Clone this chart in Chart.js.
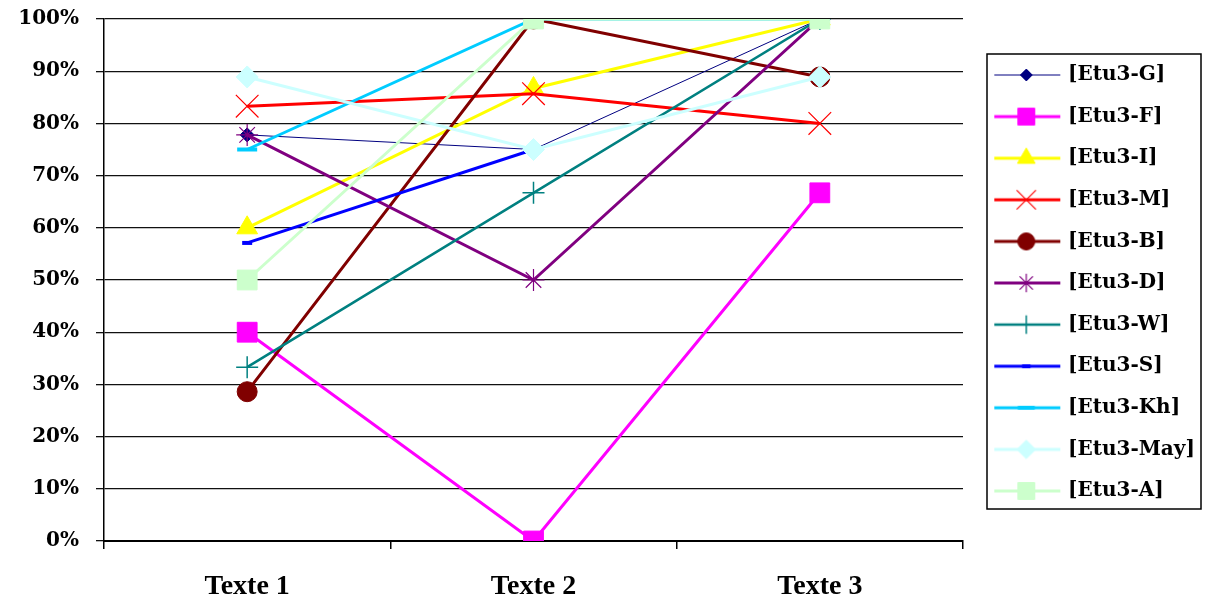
<!DOCTYPE html>
<html>
<head>
<meta charset="utf-8">
<title>Etu3</title>
<script src="https://cdn.jsdelivr.net/npm/chart.js"></script>
<style>
    body { margin: 0; background: #fff; }
    #wrap { width: 1206px; height: 601px; }
</style>
</head>
<body>
<div id="wrap"><canvas id="myChart" width="1206" height="601"></canvas></div>
<script>
// Categories et valeurs (en %)
const textes = ['Texte 1', 'Texte 2', 'Texte 3'];
const etuG = [77.8, 75, 100];
const etuF = [40, 0, 66.7];
const etuI = [60, 86.7, 100];
const etuM = [83.3, 85.7, 80];
const etuB = [28.6, 100, 88.9];
const etuD = [77.8, 50, 100];
const etuW = [33.3, 66.7, 100];
const etuS = [57.1, 75, null];
const etuKh = [75, 100, 100];
const etuMay = [88.9, 75, 88.9];
const etuA = [50, 100, 100];
const graduations = [0, 10, 20, 30, 40, 50, 60, 70, 80, 90, 100];

function serie(label, data, color, style, radius, lineW, markW) {
    return {
        label: label,
        data: data,
        borderColor: color,
        backgroundColor: color,
        borderWidth: lineW,
        pointStyle: style,
        pointRadius: radius,
        pointHoverRadius: radius,
        pointBackgroundColor: color,
        pointBorderColor: color,
        pointBorderWidth: markW,
        tension: 0
    };
}

const datasets = [
    serie('[Etu3-G]', etuG, '#000080', 'rectRot', 7, 1, 1),
    serie('[Etu3-F]', etuF, '#FF00FF', 'rect', 14, 3, 1),
    serie('[Etu3-I]', etuI, '#FFFF00', 'triangle', 12, 3, 1),
    serie('[Etu3-M]', etuM, '#FF0000', 'crossRot', 16, 3, 1.2),
    serie('[Etu3-B]', etuB, '#800000', 'circle', 10, 3, 1),
    serie('[Etu3-D]', etuD, '#800080', 'star', 11, 3, 1.2),
    serie('[Etu3-W]', etuW, '#008080', 'cross', 11, 2.5, 1.5),
    serie('[Etu3-S]', etuS, '#0000FF', 'line', 5, 3, 4),
    serie('[Etu3-Kh]', etuKh, '#00CCFF', 'line', 10, 3, 4),
    serie('[Etu3-May]', etuMay, '#CCFFFF', 'rectRot', 11, 3, 1),
    serie('[Etu3-A]', etuA, '#CCFFCC', 'rect', 14, 3, 1)
];
// la derniere serie doit etre dessinee au-dessus
datasets.forEach(function (ds, i) { ds.order = datasets.length - i; });

// petit dessin ligne + marqueur pour la legende
function echantillon(ds) {
    const c = document.createElement('canvas');
    c.width = 82;
    c.height = 30;
    const ctx = c.getContext('2d');
    ctx.strokeStyle = ds.borderColor;
    ctx.lineWidth = ds.borderWidth;
    ctx.beginPath();
    ctx.moveTo(14, 15);
    ctx.lineTo(80, 15);
    ctx.stroke();
    ctx.fillStyle = ds.pointBackgroundColor;
    ctx.strokeStyle = ds.pointBorderColor;
    ctx.lineWidth = ds.pointBorderWidth;
    Chart.helpers.drawPoint(ctx, {
        pointStyle: ds.pointStyle,
        radius: ds.pointRadius * 0.85,
        borderWidth: ds.pointBorderWidth,
        rotation: 0
    }, 46, 15);
    return c;
}

const cadreLegende = {
    id: 'cadreLegende',
    beforeLayout: function (chart) {
        const lg = chart.legend;
        if (lg && !lg._fixe) {
            const fit = lg.fit;
            lg.fit = function () { fit.call(this); this.width = 243; };
            lg._fixe = true;
        }
    },
    afterDraw: function (chart) {
        const lg = chart.legend;
        const boxes = lg.legendHitBoxes;
        if (!boxes || !boxes.length) return;
        const first = boxes[0];
        const last = boxes[boxes.length - 1];
        const ctx = chart.ctx;
        ctx.save();
        ctx.strokeStyle = '#000';
        ctx.lineWidth = 1.5;
        ctx.strokeRect(lg.left + 24, first.top - 11, lg.right - 5 - (lg.left + 24), last.top + last.height + 8 - (first.top - 11));
        ctx.restore();
    }
};

// pas de marge automatique autour des axes
function sansMarge(scale) {
    scale.paddingTop = 0;
    scale.paddingBottom = 0;
    scale.paddingLeft = 0;
    scale.paddingRight = 0;
}

const serif = 'DejaVu Serif';

new Chart(document.getElementById('myChart').getContext('2d'), {
    type: 'line',
    data: { labels: textes, datasets: datasets },
    options: {
        responsive: false,
        animation: false,
        events: [],
        layout: { autoPadding: false, padding: { top: 19, left: 0, right: 0, bottom: 0 } },
        plugins: {
            tooltip: { enabled: false },
            legend: {
                position: 'right',
                fullSize: false,
                title: { display: true, text: '', padding: 0, font: { size: 5 } },
                labels: {
                    usePointStyle: true,
                    pointStyleWidth: 73.4,
                    padding: 21.6,
                    color: '#000',
                    font: { family: serif, size: 20, weight: 'bold' },
                    generateLabels: function (chart) {
                        return chart.data.datasets.map(function (ds, i) {
                            return {
                                text: ds.label,
                                fillStyle: ds.borderColor,
                                strokeStyle: ds.borderColor,
                                lineWidth: 0,
                                pointStyle: echantillon(ds),
                                hidden: false,
                                fontColor: '#000',
                                datasetIndex: i
                            };
                        });
                    }
                }
            }
        },
        scales: {
            x: {
                offset: true,
                grid: { offset: true, drawOnChartArea: false, drawTicks: true, tickLength: 8, color: '#000', lineWidth: 1.5 },
                border: { color: '#000', width: 2 },
                ticks: {
                    color: '#000',
                    padding: 21,
                    maxRotation: 0,
                    font: { family: 'Liberation Serif', size: 28, weight: 'bold' }
                },
                afterFit: function (scale) { scale.height = 60; sansMarge(scale); }
            },
            y: {
                min: 0,
                max: 100,
                afterBuildTicks: function (scale) {
                    scale.ticks = graduations.map(function (v) { return { value: v }; });
                },
                grid: { color: '#111', lineWidth: 1.3, tickLength: 8 },
                border: { color: '#000', width: 1.5 },
                ticks: {
                    color: '#000',
                    padding: 17,
                    font: { family: serif, size: 20, weight: 'bold' },
                    callback: function (v) { return v + '%'; }
                },
                afterFit: function (scale) { scale.width = 104; sansMarge(scale); }
            }
        }
    },
    plugins: [cadreLegende]
});
</script>
</body>
</html>
